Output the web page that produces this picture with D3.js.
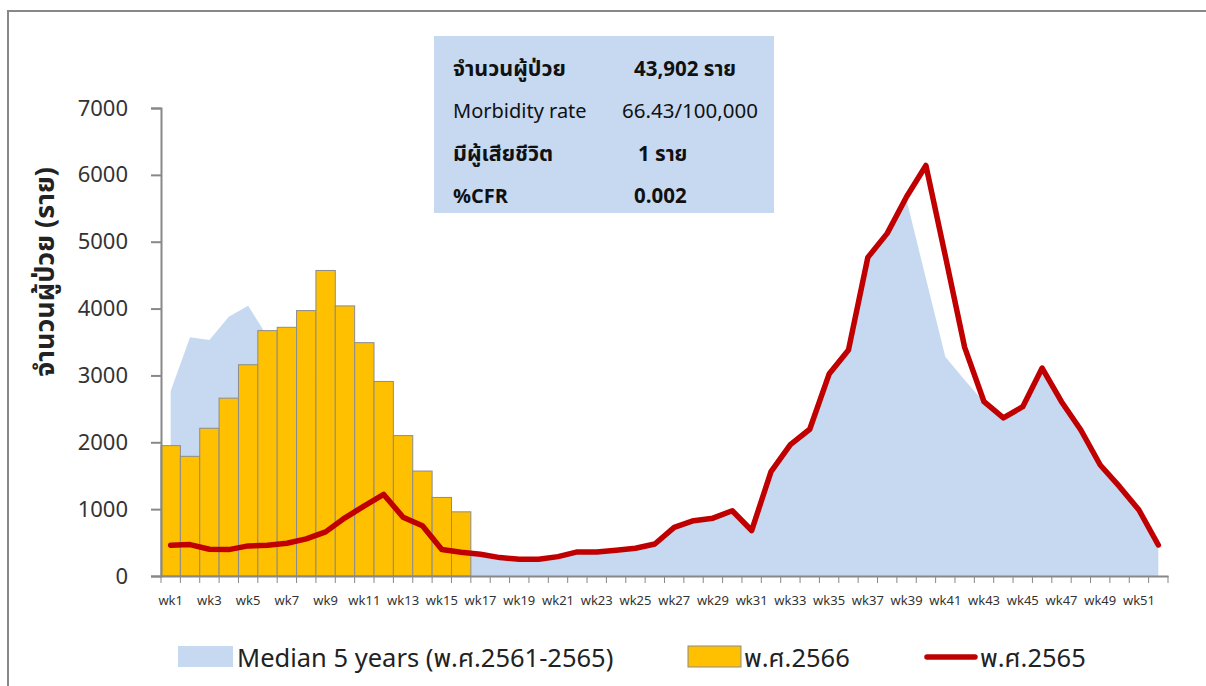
<!DOCTYPE html>
<html>
<head>
<meta charset="utf-8">
<script src="https://cdn.jsdelivr.net/npm/d3@7"></script>
<style>
  body { margin: 0; background: #fff; }
  svg text { font-family: Tahoma, "Noto Sans Thai", "Noto Sans", "DejaVu Sans", sans-serif; }
</style>
</head>
<body>
<svg id="svg0"></svg>
<script>
var weeks = d3.range(1, 53).map(function (w) { return "wk" + w; });

// พ.ศ.2566 bars (wk1..wk17)
var cases2566 = [1950, 1790, 2210, 2660, 3160, 3670, 3720, 3970, 4570, 4040, 3490, 2910, 2100, 1570, 1175, 960, 0];

// พ.ศ.2565 line
var cases2565 = [460, 470, 400, 395, 450, 460, 490, 555, 660, 870, 1050, 1220, 880, 750, 395, 355,
  325, 275, 250, 250, 290, 360, 360, 385, 415, 478, 728, 827, 865, 976, 680, 1560,
  1965, 2195, 3020, 3380, 4766, 5125, 5673, 6140, 4790, 3420, 2607, 2365, 2532, 3110,
  2607, 2184, 1660, 1336, 987, 464];

// Median 5 years (พ.ศ.2561-2565)
var median5y = [2767, 3570, 3530, 3878, 4043, 3580, 3400, 3100, 2800, 2400, 2000, 1600, 1200, 800, 500, 360,
  320, 270, 240, 240, 280, 340, 350, 370, 400, 460, 700, 800, 850, 950, 680, 1540,
  1950, 2180, 3000, 3360, 4740, 5100, 5624, 4450, 3280, 2930, 2600, 2340, 2510, 3080,
  2590, 2160, 1640, 1310, 960, 440];

var yTicks = [0, 1000, 2000, 3000, 4000, 5000, 6000, 7000];

var infoLabels = ["จำนวนผู้ป่วย", "Morbidity rate", "มีผู้เสียชีวิต", "%CFR"];
var infoValues = ["43,902 ราย", "66.43/100,000", "1 ราย", "0.002"];

var legendLabels = ["Median 5 years (พ.ศ.2561-2565)", "พ.ศ.2566", "พ.ศ.2565"];

var svgWidth = 1206, svgHeight = 686;
var plotLeft = 161, plotRight = 1168, plotTop = 108, plotBottom = 576;

var svg = d3.select("#svg0")
  .attr("width", svgWidth)
  .attr("height", svgHeight);

// outer frame (runs off the right / bottom edge)
svg.append("rect")
  .attr("x", 8).attr("y", 11)
  .attr("width", 1210).attr("height", 690)
  .attr("fill", "none")
  .attr("stroke", "#888")
  .attr("stroke-width", 2);

var x = d3.scaleBand().domain(weeks).range([plotLeft, plotRight]).padding(0);
var y = d3.scaleLinear().domain([0, 7000]).range([plotBottom, plotTop]);
var cx = function (i) { return x(weeks[i]) + x.bandwidth() / 2; };

// median area
var area = d3.area()
  .x(function (d, i) { return cx(i); })
  .y0(y(0))
  .y1(function (d) { return y(d); });

svg.append("path")
  .datum(median5y)
  .attr("d", area)
  .attr("fill", "#c6d9f1");

// bars
svg.selectAll("rect.bar")
  .data(cases2566)
  .enter()
  .append("rect")
  .attr("class", "bar")
  .attr("x", function (d, i) { return x(weeks[i]); })
  .attr("y", function (d) { return y(d); })
  .attr("width", x.bandwidth())
  .attr("height", function (d) { return y(0) - y(d); })
  .attr("fill", "#ffc000")
  .attr("stroke", "#8c8c8c")
  .attr("stroke-width", 1);

// 2565 line
var line = d3.line()
  .x(function (d, i) { return cx(i); })
  .y(function (d) { return y(d); });

svg.append("path")
  .datum(cases2565)
  .attr("d", line)
  .attr("fill", "none")
  .attr("stroke", "#c00000")
  .attr("stroke-width", 5.5)
  .attr("stroke-linejoin", "round")
  .attr("stroke-linecap", "round");

// y axis
var yAxis = svg.append("g")
  .attr("transform", "translate(" + plotLeft + ",0)")
  .call(d3.axisLeft(y).tickValues(yTicks).tickSize(10).tickPadding(23).tickFormat(d3.format("d")));
yAxis.selectAll("text").attr("font-size", 22).attr("fill", "#333");

// x axis: ticks on band edges, labels on odd weeks
var xAxis = svg.append("g")
  .attr("transform", "translate(0," + plotBottom + ")")
  .call(d3.axisBottom(x).tickSize(0).tickPadding(20)
    .tickFormat(function (d, i) { return i % 2 === 0 ? d : ""; }));
xAxis.selectAll("text").attr("font-size", 13).attr("fill", "#333");

xAxis.selectAll("line.edge")
  .data(d3.range(0, 53))
  .enter()
  .append("line")
  .attr("class", "edge")
  .attr("x1", function (i) { return plotLeft + i * x.bandwidth(); })
  .attr("x2", function (i) { return plotLeft + i * x.bandwidth(); })
  .attr("y1", 0).attr("y2", 7)
  .attr("stroke", "#888");

svg.selectAll(".domain").attr("stroke", "#888").attr("stroke-width", 2);
yAxis.selectAll(".tick line").attr("stroke", "#888").attr("stroke-width", 2);

// y title
svg.append("text")
  .attr("transform", "translate(54,272) rotate(-90)")
  .attr("text-anchor", "middle")
  .attr("font-size", 27)
  .attr("font-weight", "bold")
  .attr("fill", "#222")
  .text("จำนวนผู้ป่วย (ราย)");

// info box
svg.append("rect")
  .attr("x", 434).attr("y", 36)
  .attr("width", 340).attr("height", 177)
  .attr("fill", "#c6d9f1");

var valueX = [634, 622, 638, 634];
infoLabels.forEach(function (t, i) {
  var yy = 76 + i * 42.3;
  svg.append("text")
    .attr("x", 453).attr("y", yy)
    .attr("font-size", i === 1 || i === 3 ? 20 : 21.5)
    .attr("font-weight", i === 1 ? "normal" : "bold")
    .attr("fill", "#111")
    .text(t);
  svg.append("text")
    .attr("x", valueX[i]).attr("y", yy)
    .attr("font-size", 20.5)
    .attr("font-weight", i === 1 ? "normal" : "bold")
    .attr("fill", "#111")
    .text(infoValues[i]);
});

// legend
var lg = svg.append("g").attr("fill", "#222");
lg.append("rect").attr("x", 178).attr("y", 646).attr("width", 55).attr("height", 21).attr("fill", "#c6d9f1");
lg.append("text").attr("x", 237).attr("y", 667).attr("font-size", 25.5).text(legendLabels[0]);
lg.append("rect").attr("x", 688).attr("y", 646).attr("width", 53).attr("height", 21)
  .attr("fill", "#ffc000").attr("stroke", "#8c8c8c");
lg.append("text").attr("x", 744).attr("y", 667).attr("font-size", 25.5).text(legendLabels[1]);
lg.append("line").attr("x1", 927).attr("x2", 975).attr("y1", 657).attr("y2", 657)
  .attr("stroke", "#c00000").attr("stroke-width", 5.5).attr("stroke-linecap", "round");
lg.append("text").attr("x", 980).attr("y", 667).attr("font-size", 25.5).text(legendLabels[2]);
</script>
</body>
</html>
